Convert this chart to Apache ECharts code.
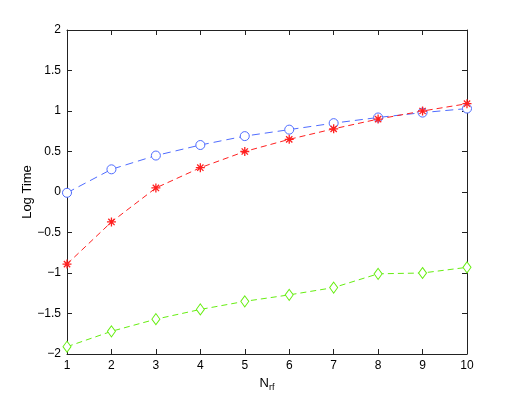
<!DOCTYPE html>
<html>
<head>
<meta charset="utf-8">
<script src="https://cdn.jsdelivr.net/npm/echarts@6/dist/echarts.min.js"></script>
<style>
  html, body { margin: 0; padding: 0; background: #fff; }
  #chart { width: 515px; height: 399px; }
</style>
</head>
<body>
<div id="chart"></div>
<script>
// 数据
const nrf = [1, 2, 3, 4, 5, 6, 7, 8, 9, 10];
const blueVals = [-0.01, 0.28, 0.45, 0.58, 0.69, 0.77, 0.85, 0.92, 0.98, 1.03];
const redVals = [-0.89, -0.37, 0.05, 0.30, 0.50, 0.65, 0.78, 0.90, 1.00, 1.09];
const greenVals = [-1.91, -1.72, -1.57, -1.45, -1.35, -1.27, -1.18, -1.01, -1.00, -0.93];

const font = 'Liberation Sans, Arial, sans-serif';
const axisColor = '#222';

// 星号标记
const starPath = 'path://M5 0 L5 10 M0 5 L10 5 M1.5 1.5 L8.5 8.5 M1.5 8.5 L8.5 1.5';

function pairs(vals) {
    return nrf.map((x, i) => [x, vals[i]]);
}

function line(vals, color, symbol, size, dash) {
    return {
        type: 'line',
        data: pairs(vals),
        symbol: symbol,
        symbolSize: size,
        showAllSymbol: true,
        lineStyle: { color: color, width: 1, type: dash },
        itemStyle: { color: '#fff', borderColor: color, borderWidth: 1 },
        emphasis: { disabled: true },
        animation: false,
        z: 3
    };
}

const tickCommon = {
    axisTick: { show: true, inside: true, length: 5, lineStyle: { color: axisColor } },
    axisLine: { show: true, onZero: false, lineStyle: { color: axisColor, width: 1 } },
    splitLine: { show: false }
};

let option = {
    backgroundColor: '#fff',
    animation: false,
    grid: { left: 67, right: 48, top: 30, bottom: 45, containLabel: false },
    xAxis: [
        Object.assign({
            type: 'value', min: 1, max: 10, interval: 1, position: 'bottom',
            name: '{n|N}{s|rf}', nameLocation: 'middle', nameGap: 20,
            nameTextStyle: {
                rich: {
                    n: { fontFamily: font, fontSize: 13, color: '#000' },
                    s: { fontFamily: font, fontSize: 9, color: '#000', verticalAlign: 'bottom', padding: [8, 0, 0, 0] }
                }
            },
            axisLabel: { fontFamily: font, fontSize: 12, color: '#000', margin: 6 }
        }, tickCommon),
        Object.assign({
            type: 'value', min: 1, max: 10, interval: 1, position: 'top',
            axisLabel: { show: false }
        }, tickCommon)
    ],
    yAxis: [
        Object.assign({
            type: 'value', min: -2, max: 2, interval: 0.5, position: 'left',
            name: 'Log Time', nameLocation: 'middle', nameGap: 33, nameMoveOverlap: false,
            nameTextStyle: { fontFamily: font, fontSize: 13, color: '#000' },
            axisLabel: {
                fontFamily: font, fontSize: 12, color: '#000', margin: 6,
                formatter: v => String(v).replace('-', '\u2212')
            }
        }, tickCommon),
        Object.assign({
            type: 'value', min: -2, max: 2, interval: 0.5, position: 'right',
            axisLabel: { show: false }
        }, tickCommon)
    ],
    series: [
        line(blueVals, '#4f6cff', 'circle', 9, [8, 5]),
        Object.assign(line(redVals, '#ff2020', starPath, 9, [6, 4]), {
            itemStyle: { color: 'none', borderColor: '#ff2020', borderWidth: 1.3 }
        }),
        line(greenVals, '#66ee11', 'diamond', [8, 11], [6, 4])
    ]
};

const myChart = echarts.init(document.getElementById('chart'));
myChart.setOption(option);
</script>
</body>
</html>
